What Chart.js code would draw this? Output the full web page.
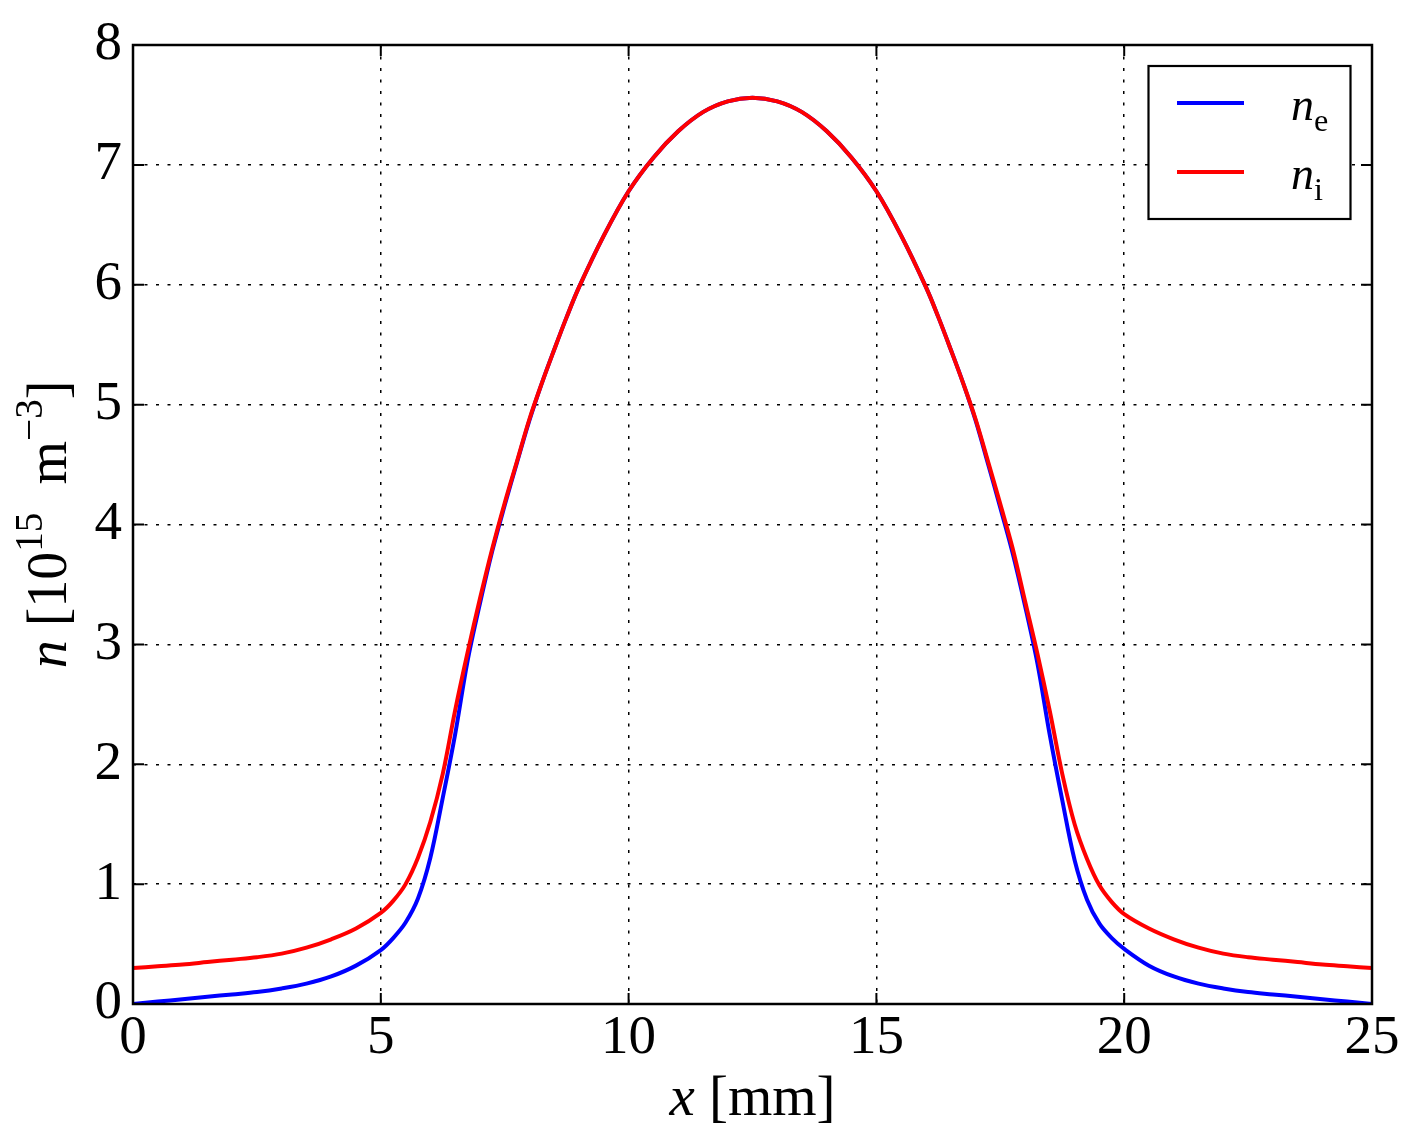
<!DOCTYPE html>
<html>
<head>
<meta charset="utf-8">
<script src="https://cdn.jsdelivr.net/npm/chart.js"></script>
<style>
html, body { margin: 0; padding: 0; background: #ffffff; }
#wrap { width: 1420px; height: 1148px; position: relative; }
</style>
</head>
<body>
<div id="wrap"><canvas id="c"></canvas></div>
<script>
// ---- data ----
const xValues = [0, 0.5, 1, 1.5, 2, 2.5, 3, 3.5, 4, 4.5, 5, 5.25, 5.5, 5.75, 6, 6.25, 6.5, 6.75, 7, 7.25, 7.5, 7.75, 8, 8.25, 8.5, 8.75, 9, 9.5, 10, 10.5, 11, 11.5, 12, 12.5,
  13, 13.5, 14, 14.5, 15, 15.5, 16, 16.25, 16.5, 16.75, 17, 17.25, 17.5, 17.75, 18, 18.25, 18.5, 18.75, 19, 19.25, 19.5, 19.75, 20, 20.5, 21, 21.5, 22, 22.5, 23, 23.5, 24, 24.5, 25];
const neValues = [0.00, 0.02, 0.04, 0.06, 0.08, 0.10, 0.13, 0.17, 0.23, 0.32, 0.45, 0.55, 0.68, 0.88, 1.22, 1.72, 2.25, 2.86, 3.34, 3.78, 4.16, 4.52, 4.87, 5.18, 5.46, 5.73, 5.98, 6.41, 6.78, 7.06, 7.28, 7.44, 7.53, 7.56,
  7.53, 7.44, 7.28, 7.06, 6.78, 6.41, 5.98, 5.73, 5.46, 5.18, 4.87, 4.51, 4.14, 3.76, 3.32, 2.84, 2.24, 1.70, 1.20, 0.87, 0.67, 0.55, 0.46, 0.32, 0.23, 0.17, 0.13, 0.10, 0.08, 0.06, 0.04, 0.02, 0.00];
const niValues = [0.30, 0.315, 0.33, 0.35, 0.37, 0.39, 0.42, 0.47, 0.54, 0.63, 0.76, 0.86, 1.00, 1.22, 1.52, 1.92, 2.45, 2.93, 3.38, 3.80, 4.18, 4.53, 4.88, 5.18, 5.46, 5.73, 5.98, 6.41, 6.78, 7.06, 7.28, 7.44, 7.53, 7.56,
  7.53, 7.44, 7.28, 7.06, 6.78, 6.41, 5.98, 5.73, 5.46, 5.18, 4.88, 4.53, 4.17, 3.80, 3.36, 2.92, 2.44, 1.92, 1.50, 1.21, 0.99, 0.85, 0.75, 0.63, 0.54, 0.47, 0.42, 0.39, 0.37, 0.35, 0.33, 0.315, 0.30];
const xRange = [0, 25];
const yRange = [0, 8];
const xStep = 5;
const yStep = 1;
const seriesNames = ['n_e', 'n_i'];

// ---- text (mathtext-like pieces) ----
const xTitleParts = [{ t: 'x', it: true }, { t: ' [mm]' }];
const yTitleParts = [{ t: 'n', it: true }, { t: ' [10' }, { t: '15', sup: true }, { t: '  m' }, { t: '\u22123', sup: true }, { t: ']' }];
const legendParts = [
  [{ t: 'n', it: true }, { t: 'e', sub: true }],
  [{ t: 'n', it: true }, { t: 'i', sub: true }]
];

const FAMILY = '"Liberation Serif", "DejaVu Serif", serif';
const colors = ['#0000ff', '#ff0000'];

function fontFor(p, size) {
  const s = (p.sup || p.sub) ? size * 0.7 : size;
  return (p.it ? 'italic ' : '') + s + 'px ' + FAMILY;
}
function richWidth(ctx, parts, size) {
  let w = 0;
  parts.forEach(p => { ctx.font = fontFor(p, size); w += ctx.measureText(p.t).width; });
  return w;
}
function drawRich(ctx, parts, size, x, y) {
  let cx = x;
  ctx.textAlign = 'left';
  ctx.textBaseline = 'alphabetic';
  parts.forEach(p => {
    ctx.font = fontFor(p, size);
    let dy = 0;
    if (p.sup) dy = -size * 0.42;
    if (p.sub) dy = size * 0.24;
    ctx.fillText(p.t, cx, y + dy);
    cx += ctx.measureText(p.t).width;
  });
}

const decorPlugin = {
  id: 'decor',
  afterDraw(chart) {
    const { ctx, chartArea, scales } = chart;
    const { left, right, top, bottom } = chartArea;
    const xs = scales.x, ys = scales.y;
    ctx.save();
    ctx.setLineDash([]);
    ctx.strokeStyle = '#000';
    // inward tick marks on all four sides
    const TL = 11;
    ctx.lineWidth = 2;
    ctx.beginPath();
    xs.ticks.forEach(t => {
      const px = xs.getPixelForValue(t.value);
      ctx.moveTo(px, bottom); ctx.lineTo(px, bottom - TL);
      ctx.moveTo(px, top); ctx.lineTo(px, top + TL);
    });
    ys.ticks.forEach(t => {
      const py = ys.getPixelForValue(t.value);
      ctx.moveTo(left, py); ctx.lineTo(left + TL, py);
      ctx.moveTo(right, py); ctx.lineTo(right - TL, py);
    });
    ctx.stroke();
    // frame
    ctx.lineWidth = 2.5;
    ctx.strokeRect(left, top, right - left, bottom - top);

    // legend box
    const bx = 1148.5, by = 66, bw = 202, bh = 153;
    ctx.fillStyle = '#fff';
    ctx.fillRect(bx, by, bw, bh);
    ctx.lineWidth = 2.2;
    ctx.strokeRect(bx, by, bw, bh);
    const rowsY = [103, 172];
    chart.data.datasets.forEach((ds, i) => {
      ctx.strokeStyle = ds.borderColor;
      ctx.lineWidth = 4;
      ctx.beginPath();
      ctx.moveTo(1177, rowsY[i]); ctx.lineTo(1244, rowsY[i]);
      ctx.stroke();
      ctx.fillStyle = '#000';
      drawRich(ctx, legendParts[i], 46, 1291, rowsY[i] + 17);
    });

    // x title
    ctx.fillStyle = '#000';
    const xs2 = 57;
    const xw = richWidth(ctx, xTitleParts, xs2);
    drawRich(ctx, xTitleParts, xs2, (left + right) / 2 - xw / 2, 1115);

    // y title (rotated)
    const ys2 = 56;
    const yw = richWidth(ctx, yTitleParts, ys2);
    ctx.translate(66, (top + bottom) / 2);
    ctx.rotate(-Math.PI / 2);
    drawRich(ctx, yTitleParts, ys2, -yw / 2, 0);
    ctx.restore();
  }
};

const ne = xValues.map((x, i) => ({ x: x, y: neValues[i] }));
const ni = xValues.map((x, i) => ({ x: x, y: niValues[i] }));

new Chart(document.getElementById('c'), {
  type: 'line',
  data: {
    datasets: [
      { label: seriesNames[0], data: ne, borderColor: colors[0], backgroundColor: colors[0], borderWidth: 4, pointRadius: 0, tension: 0.35, fill: false, order: 1 },
      { label: seriesNames[1], data: ni, borderColor: colors[1], backgroundColor: colors[1], borderWidth: 4, pointRadius: 0, tension: 0.35, fill: false, order: 0 }
    ]
  },
  options: {
    responsive: true,
    maintainAspectRatio: false,
    animation: false,
    devicePixelRatio: 1,
    layout: { padding: { top: 45, right: 48, left: 0, bottom: 0 } },
    plugins: { legend: { display: false }, tooltip: { enabled: false } },
    scales: {
      x: {
        type: 'linear', min: xRange[0], max: xRange[1],
        ticks: { stepSize: xStep, color: '#000', padding: 2, maxRotation: 0, autoSkip: false, font: { family: FAMILY, size: 55 } },
        grid: { color: '#000', lineWidth: 1.5, drawTicks: false },
        border: { display: false, dash: [3, 8.5] },
        afterFit(s) { s.height = 144; }
      },
      y: {
        type: 'linear', min: yRange[0], max: yRange[1],
        ticks: { stepSize: yStep, color: '#000', padding: 11, font: { family: FAMILY, size: 55 } },
        grid: { color: '#000', lineWidth: 1.5, drawTicks: false },
        border: { display: false, dash: [3, 8.5] },
        afterFit(s) { s.width = 133; }
      }
    }
  },
  plugins: [decorPlugin]
});
</script>
</body>
</html>
